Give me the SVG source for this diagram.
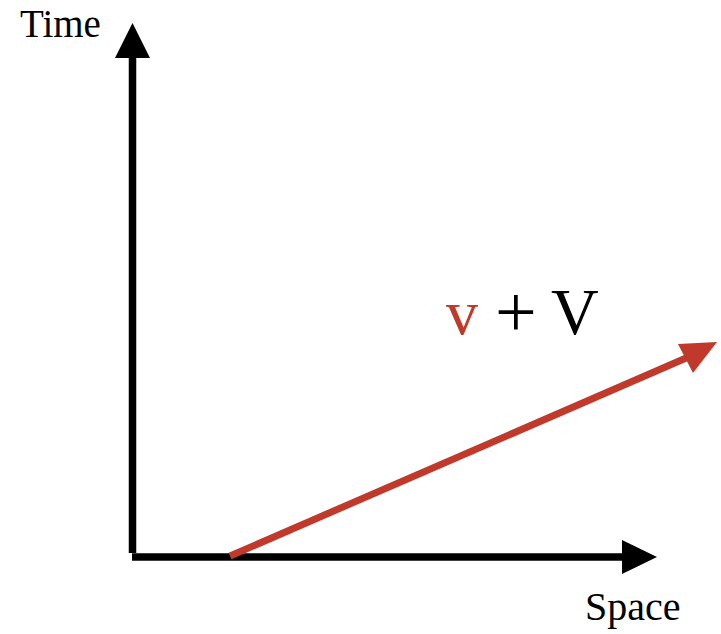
<svg xmlns="http://www.w3.org/2000/svg" width="721" height="634" viewBox="0 0 721 634">
<style>
text{font-family:"Liberation Serif","Times New Roman",serif;fill:#000}
.axis{stroke:#000;stroke-width:7.5;fill:none}
.vel{stroke:#c0392b;stroke-width:7;fill:none}
</style>
<rect width="721" height="634" fill="#fff"/>
<g id="connectors">
<path class="axis" d="M132.5 553V55"/>
<polygon points="132.5,23 115,58 150,58" fill="#000"/>
<path class="axis" d="M132 557H625"/>
<polygon points="657,557 622,540 622,574" fill="#000"/>
<path class="vel" d="M230 556L693 355"/>
<polygon points="717,342 678,344 693,373" fill="#c0392b"/>
</g>
<g id="time-label"><text x="20" y="37" font-size="39">Time</text></g>
<g id="space-label"><text x="585" y="620" font-size="40">Space</text></g>
<g id="velocity-label">
<text x="446" y="334" font-size="64" style="fill:#c0392b">v</text>
<text x="495" y="337" font-size="74" font-weight="300">+</text>
<text x="551" y="334" font-size="66">V</text>
</g>
</svg>
